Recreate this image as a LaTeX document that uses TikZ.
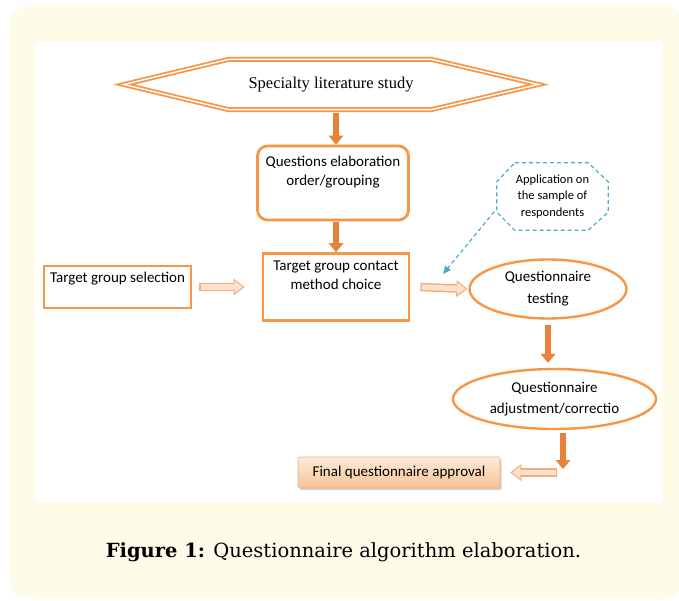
\documentclass[tikz,border=0pt]{standalone}
\usepackage{fontspec}
\setmainfont{Carlito}
\newfontfamily\hexfont{Liberation Serif}
\newfontfamily\capfont{DejaVu Serif}
\usepackage{tikz}
\usetikzlibrary{shapes,arrows.meta,positioning,shadows}

\definecolor{bgyellow}{HTML}{FFFBE9}
\definecolor{boxorange}{HTML}{F79646}
\definecolor{arroworange}{HTML}{E8823A}
\definecolor{peachline}{HTML}{F3AE7C}
\definecolor{peachfill}{HTML}{FCE2CE}
\definecolor{notecyan}{HTML}{4BACC6}
\definecolor{finaltop}{HTML}{FDEBDD}
\definecolor{finalbot}{HTML}{F9C395}

\begin{document}
\begin{tikzpicture}[x=1pt, y=-1pt,
    txt/.style={font=\fontsize{15}{19.5}\selectfont, align=center},
    stepbox/.style={rectangle, draw=boxorange, line width=2.8pt, fill=white},
    ovalbox/.style={ellipse, draw=boxorange, line width=2.4pt, fill=white, inner sep=0pt, txt},
    toplabel/.style={anchor=north, inner sep=0pt, txt},
    notedash/.style={draw=notecyan, line width=1.2pt, dash pattern=on 4pt off 3pt},
    downarr/.style={draw=arroworange, line width=6.5pt,
                    -{Triangle[length=9pt, width=15pt, line width=0pt]}},
    sidearr/.style={draw=peachline, line width=8.5pt,
                    -{Triangle[length=11pt, width=17pt, line width=0pt]},
                    postaction={draw=peachfill, line width=5.5pt,
                    -{Triangle[length=8pt, width=12.5pt, line width=0pt]},
                    shorten >=2pt, shorten <=1.5pt}}
]
\clip (0,0) rectangle (679,601);
\fill[bgyellow, rounded corners=20pt] (9,5) rectangle (684,599);
\fill[white] (35,42) rectangle (662,502);

% flow chart
\node[minimum width=414pt, minimum height=50pt, inner sep=0pt,
      font=\hexfont\fontsize{16.5}{20}\selectfont] (hex) at (331,84.5)
      {Specialty literature study};
\draw[draw=boxorange, double=white, double distance=1.4pt, line width=1.8pt]
     (hex.west) -- ([xshift=105pt]hex.north west) -- ([xshift=-107pt]hex.north east)
     -- (hex.east) -- ([xshift=-107pt]hex.south east) -- ([xshift=105pt]hex.south west)
     -- cycle;
\node[stepbox, rounded corners=10pt, minimum width=151pt, minimum height=74pt,
      label={[toplabel, yshift=-11pt]north:{Questions elaboration\\order/grouping}}]
      (order) at (333,183) {};
\node[stepbox, minimum width=146pt, minimum height=67pt,
      label={[toplabel, yshift=-8.5pt]north:{Target group contact\\method choice}}]
      (contact) at (336,287) {};
\node[stepbox, minimum width=147pt, minimum height=42pt,
      label={[toplabel, yshift=-7.5pt]north:{Target group selection}}]
      (select) at (117.5,287) {};
\node[ovalbox, minimum width=157pt, minimum height=59pt,
      font=\fontsize{15}{22}\selectfont] (test) at (548,289)
      {Questionnaire\\testing};
\node[ovalbox, minimum width=203pt, minimum height=60pt,
      font=\fontsize{15}{21}\selectfont] (adjust) at (554.5,399)
      {Questionnaire\\adjustment/correctio};
\node[minimum width=111pt, minimum height=67pt, inner sep=0pt, align=center,
      font=\fontsize{12.5}{16.5}\selectfont] (note) at (552.5,196.5)
      {Application on\\the sample of\\respondents};
\draw[notedash]
     ([xshift=18pt]note.north west) -- ([xshift=-20pt]note.north east)
     -- ([yshift=-19pt]note.north east) -- ([yshift=18pt]note.south east)
     -- ([xshift=-20pt]note.south east) -- ([xshift=18pt]note.south west)
     -- ([yshift=18pt]note.south west) -- ([yshift=-19pt]note.north west) -- cycle;
\node[rectangle, rounded corners=1.5pt, draw=peachline, line width=0.6pt,
      top color=finaltop, bottom color=finalbot,
      drop shadow={opacity=0.35, shadow xshift=1.5pt, shadow yshift=-2pt},
      minimum width=202pt, minimum height=31pt, txt] (final) at (399,472.5)
      {Final questionnaire approval};

\coordinate (turn) at (563,469);
\coordinate (back) at (557,472.5);
\coordinate (hint) at (443,274);

\draw[downarr, shorten <=3pt] (hex.south -| contact) -- (order.north -| contact);
\draw[downarr, shorten <=1pt] (order.south -| contact) -- (contact.north);
\draw[downarr, shorten <=5pt, shorten >=5pt] (test.south) -- (test.south |- adjust.north);
\draw[downarr, shorten <=3pt] (adjust.south -| turn) -- (turn);
\draw[sidearr] ([xshift=7pt]select.east) -- ([xshift=-17pt]contact.west);
\draw[sidearr] ([xshift=10pt]contact.east) -- ([xshift=-1pt]test.west);
\draw[sidearr] (back) -- ([xshift=10pt]final.east);
\draw[notedash, -{Triangle[length=8pt, width=7pt]}, shorten <=4pt]
     ([yshift=-12pt]note.west) -- (hint);

\node[font=\capfont\fontsize{19.5}{24}\selectfont] (caption) at (343.5,552)
     {\textbf{Figure 1:} Questionnaire algorithm elaboration.};
\end{tikzpicture}
\end{document}
